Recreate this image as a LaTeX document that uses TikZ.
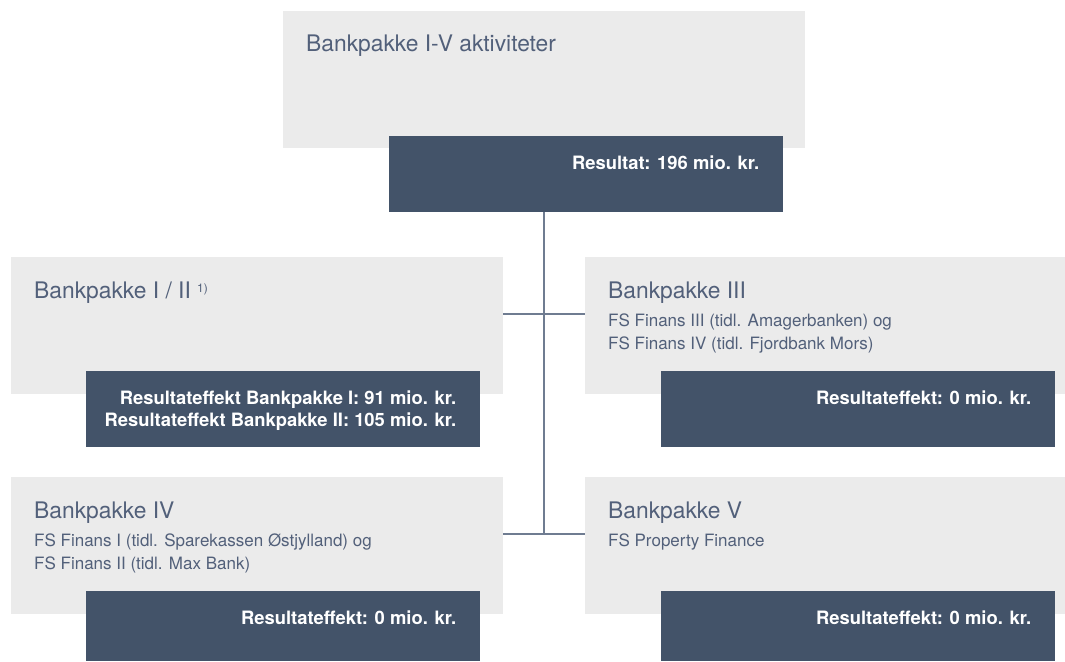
\documentclass[tikz,border=0pt]{standalone}
\usepackage{fontspec}
\setmainfont{TeX Gyre Heros}
\usetikzlibrary{positioning}
\usetikzlibrary{calc}
\definecolor{panelgrey}{HTML}{EBEBEB}
\definecolor{resblue}{HTML}{435369}
\definecolor{headblue}{HTML}{52607A}
\definecolor{linkblue}{HTML}{6F7C91}
\tikzstyle{panel}=[fill=panelgrey, inner sep=0pt, anchor=north west, minimum height=137pt]
\tikzstyle{resbox}=[fill=resblue, inner sep=0pt, anchor=north west, minimum width=394pt]
\tikzstyle{head}=[font=\fontsize{22.8}{26}\selectfont, text=headblue, anchor=base west, inner sep=0pt]
\tikzstyle{subhead}=[font=\fontsize{17}{23}\selectfont, text=headblue, anchor=north west, inner sep=0pt, align=left]
\tikzstyle{result}=[font=\fontsize{18.4}{22}\selectfont\bfseries, text=white, anchor=north east, inner sep=0pt, align=right]
\tikzstyle{link}=[draw=linkblue, line width=1.5pt]

\begin{document}
\begin{tikzpicture}[x=1pt, y=-1pt]
\useasboundingbox (0,0) rectangle (1065,661);

%panels
    \foreach \pos/\name/\boxw in {{(283,11)/top/522}, {(11,257)/bpa/492}, {(585,257)/bpc/480}, {(11,477)/bpd/492}, {(585,477)/bpe/480}}
        \node[panel, minimum width=\boxw pt] (\name) at \pos {};

%result boxes
    \foreach \pos/\name/\boxh in {{(389,136)/restop/76}, {(86,371)/resa/76}, {(661,371)/resc/76}, {(86,591)/resd/70}, {(661,591)/rese/70}}
        \node[resbox, minimum height=\boxh pt] (\name) at \pos {};

%headings
\node[head] (htop) at ($(top.north west)+(23,41)$) {Bankpakke I-V aktiviteter};
\node[head] (ha) at ($(bpa.north west)+(23,41)$) {Bankpakke I / II \raisebox{6pt}{\fontsize{12}{12}\selectfont 1)}};
\node[head] (hc) at ($(bpc.north west)+(23,41)$) {Bankpakke III};
\node[head] (hd) at ($(bpd.north west)+(23,41)$) {Bankpakke IV};
\node[head] (he) at ($(bpe.north west)+(23,41)$) {Bankpakke V};

\node[subhead] (sc) at ($(bpc.north west)+(23,57)$) {FS Finans III (tidl. Amagerbanken) og\\FS Finans IV (tidl. Fjordbank Mors)};
\node[subhead] (sd) at ($(bpd.north west)+(23,57)$) {FS Finans I (tidl. Sparekassen Østjylland) og\\FS Finans II (tidl. Max Bank)};
\node[subhead] (se) at ($(bpe.north west)+(23,57)$) {FS Property Finance};

%results
\node[result] (rtop) at ($(restop.north east)+(-24,20)$) {Resultat: 196 mio. kr.};
\node[result] (ra) at ($(resa.north east)+(-24,20)$) {Resultateffekt Bankpakke I: 91 mio. kr.\\Resultateffekt Bankpakke II: 105 mio. kr.};
\node[result] (rc) at ($(resc.north east)+(-24,20)$) {Resultateffekt: 0 mio. kr.};
\node[result] (rd) at ($(resd.north east)+(-24,20)$) {Resultateffekt: 0 mio. kr.};
\node[result] (re) at ($(rese.north east)+(-24,20)$) {Resultateffekt: 0 mio. kr.};

%links
\coordinate (mid) at (544,314);
\coordinate (hub) at (544,534);
\draw[link] (restop.south -| hub) -- (hub);
\draw[link] (bpa.east |- mid) -- (bpc.west |- mid);
\draw[link] (bpd.east |- hub) -- (bpe.west |- hub);

\end{tikzpicture}
\end{document}
